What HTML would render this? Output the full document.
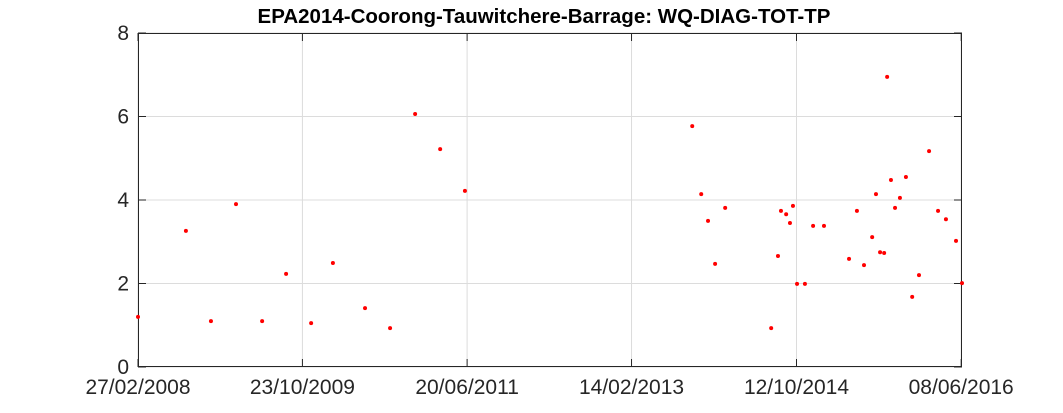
<!DOCTYPE html>
<html><head><meta charset="utf-8"><style>
html,body{margin:0;padding:0;background:#fff;width:1063px;height:413px;overflow:hidden;font-family:"Liberation Sans",sans-serif}
</style></head><body>
<svg id="chart" width="1063" height="413" xmlns="http://www.w3.org/2000/svg"></svg>
<script>
const xTickLabels=["27/02/2008","23/10/2009","20/06/2011","14/02/2013","12/10/2014","08/06/2016"];
const xTickDays=[0,604,1209,1813,2419,3024];
const yTicks=[0,2,4,6,8];
const days=[0,176,268,360,456,544,636,716,834,926,1018,1110,1201,2036,2069,2094,2120,2157,2326,2351,2362,2381,2395,2406,2421,2450,2480,2520,2612,2641,2667,2697,2711,2726,2741,2752,2766,2781,2799,2821,2844,2869,2906,2939,2968,3005,3027];
const values=[1.20,3.26,1.10,3.90,1.10,2.23,1.05,2.49,1.41,0.93,6.06,5.22,4.22,5.77,4.14,3.50,2.47,3.81,0.93,2.66,3.74,3.66,3.45,3.86,1.99,1.99,3.38,3.38,2.59,3.74,2.44,3.11,4.14,2.75,2.73,6.95,4.48,3.81,4.05,4.55,1.68,2.20,5.17,3.74,3.54,3.02,2.01];
const L=138,R=962,T=33,B=367,XMAX=3027,YMAX=8;
const sx=d=>L+d/XMAX*(R-L), sy=v=>B-v/YMAX*(B-T);
const svg=document.getElementById('chart'),NS="http://www.w3.org/2000/svg";
function mk(t,a,p){const e=document.createElementNS(NS,t);for(const k in a)e.setAttribute(k,a[k]);(p||svg).appendChild(e);return e;}
const bg=mk('rect',{x:L,y:T,width:R-L,height:B-T,fill:'#fff'});


xTickDays.forEach((d,i)=>{const x=sx(d);
 const g=mk('line',{x1:x,x2:x,y1:T,y2:B,stroke:'#dcdcdc','stroke-width':1});
 
 
 mk('line',{x1:x,x2:x,y1:B,y2:B-8,stroke:'#262626'});
 mk('line',{x1:x,x2:x,y1:T,y2:T+8,stroke:'#262626'});
 const t=mk('text',{x:x,y:394,'text-anchor':'middle','font-size':21,fill:'#262626'});t.textContent=xTickLabels[i];
 
 
});
yTicks.forEach(v=>{const y=sy(v);
 const g=mk('line',{x1:L,x2:R,y1:y,y2:y,stroke:'#dcdcdc','stroke-width':1});
 
 
 mk('line',{x1:L,x2:L+8,y1:y,y2:y,stroke:'#262626'});
 mk('line',{x1:R,x2:R-8,y1:y,y2:y,stroke:'#262626'});
 const t=mk('text',{x:L-9,y:y+7,'text-anchor':'end','font-size':21,fill:'#262626'});t.textContent=v;
 
 
});
const fr=mk('rect',{x:L+0.5,y:T+0.5,width:R-L-1,height:B-T-1,fill:'none',stroke:'#262626','stroke-width':1});


days.forEach((d,i)=>{const c=mk('circle',{cx:sx(d),cy:sy(values[i]),r:2,fill:'#ff0000'});
 
 
});
const ti=mk('text',{x:544,y:23,'text-anchor':'middle','font-size':20.5,'font-weight':'bold',fill:'#000'});
ti.textContent="EPA2014-Coorong-Tauwitchere-Barrage: WQ-DIAG-TOT-TP";


</script>
</body></html>
